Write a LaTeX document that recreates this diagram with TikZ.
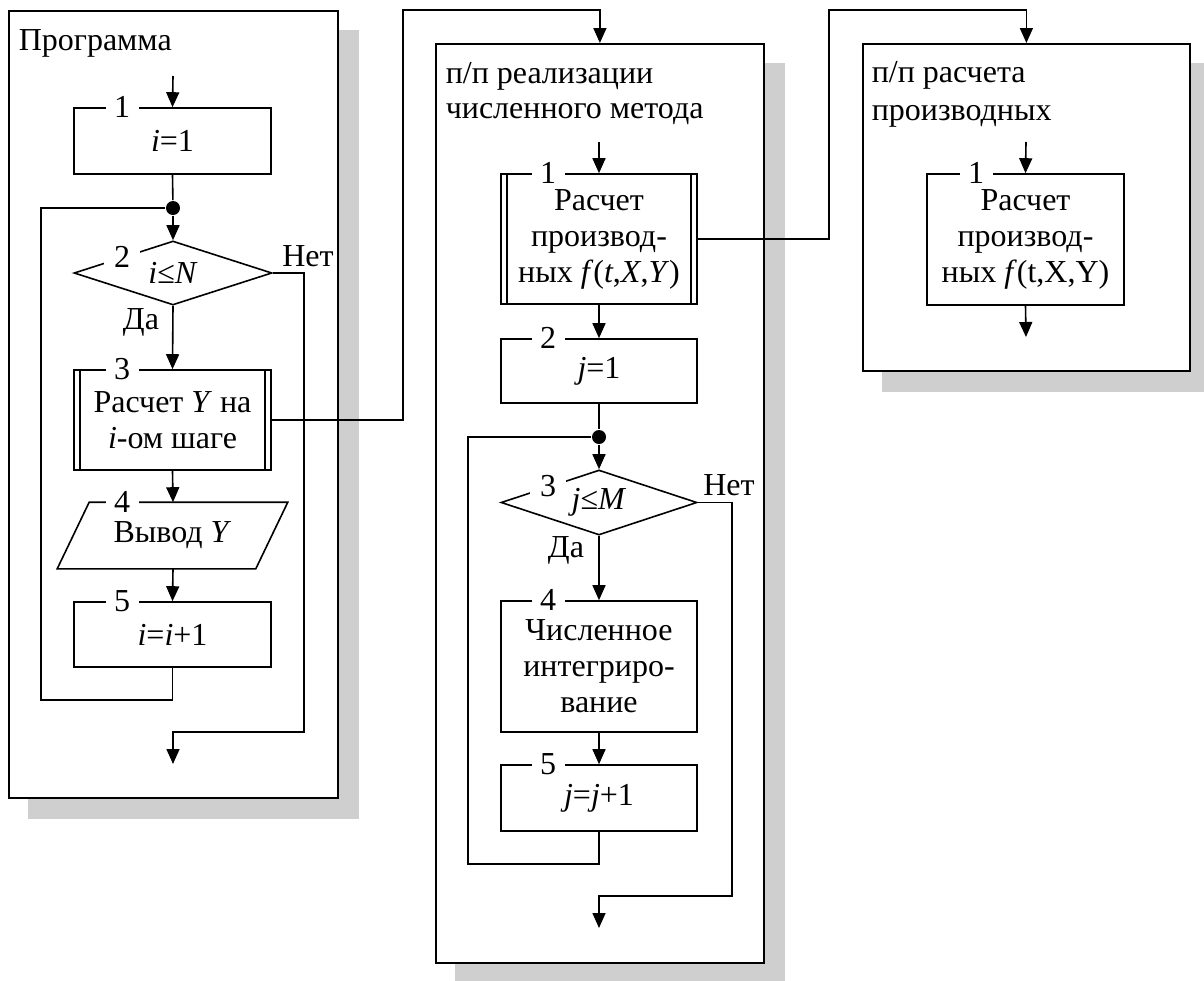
\documentclass[tikz,border=0pt]{standalone}
\usepackage{fontspec}
\setmainfont{Liberation Serif}
\usetikzlibrary{arrows.meta,shapes.geometric,calc,backgrounds}
\definecolor{shadowgray}{RGB}{207,207,207}
\begin{document}
\begin{tikzpicture}[x=1pt,y=-1pt,
  font=\fontsize{32}{36}\selectfont,
  line width=1.6pt,
  >={Triangle[length=15pt,width=13pt]},
  panel/.style={draw,line width=1.8pt,fill=white,anchor=north west,inner sep=0pt},
  blk/.style={draw,fill=white,minimum width=197pt,minimum height=#1,inner sep=1pt,align=center},
  cond/.style={draw,fill=white,diamond,aspect=3,inner sep=0pt,minimum width=198pt,minimum height=64pt},
  ghost/.style={minimum width=197pt,minimum height=#1,inner sep=2pt,align=center},
  num/.style={fill=white,inner sep=0pt,minimum width=33pt,minimum height=24pt},
  dot/.style={circle,fill=black,inner sep=0pt,minimum size=14pt},
  ttl/.style={anchor=base west,inner sep=0pt},
  lbl/.style={inner sep=0pt}]
\useasboundingbox (0,0) rectangle (1204,980);

% ---------- panels ----------
\node[panel,minimum width=329pt,minimum height=787pt] (P1) at (8,10) {};
\node[panel,minimum width=328pt,minimum height=919pt] (P2) at (435,43) {};
\node[panel,minimum width=327pt,minimum height=327pt] (P3) at (862,43) {};
\begin{scope}[on background layer]
  \foreach \p in {P1,P2,P3}
    \fill[shadowgray] ($(\p.north west)+(20,20)$) rectangle ($(\p.south east)+(20,20)$);
\end{scope}

\node[ttl] (t1) at ($(P1.north west)+(10,40)$) {Программа};
\node[ttl] (t2a) at ($(P2.north west)+(10,40)$) {п/п реализации};
\node[ttl] (t2b) at ($(P2.north west)+(10,75)$) {численного метода};
\node[ttl] (t3a) at ($(P3.north west)+(9,39)$) {п/п расчета};
\node[ttl] (t3b) at ($(P3.north west)+(9,77)$) {производных};

% ---------- panel 1 ----------
\coordinate (in1) at (173,76);
\node[blk=66pt] (b1) at (172.5,141) {\textit{i}=1};
\node[dot] (c1) at (173,208) {};
\node[cond] (d2) at (173,273) {\textit{i}≤\textit{N}};
\node[blk=100pt] (b3) at (172.5,420) {Расчет \textit{Y} на\\\textit{i}-ом шаге};
\draw ([xshift=7pt]b3.north west) -- ([xshift=7pt]b3.south west);
\draw ([xshift=-7pt]b3.north east) -- ([xshift=-7pt]b3.south east);
\node[ghost=65pt] (p4) at (172.5,535.5) {};
\draw[fill=white] ([xshift=16pt]p4.north west) -- ([xshift=16pt]p4.north east)
  -- ([xshift=-16pt]p4.south east) -- ([xshift=-16pt]p4.south west) -- cycle;
\node at (p4) {Вывод \textit{Y}};
\node[blk=65pt] (b5) at (172.5,634.5) {\textit{i}=\textit{i}+1};
\coordinate (out1) at (173,764);

\node[num] (n1) at ($(b1.north west)+(49,0)$) {1};
\node[num,minimum width=36pt] (n2) at ($(d2.west)+(49,-16)$) {2};
\node[num] (n3) at ($(b3.north west)+(49,0)$) {3};
\node[num] (n4) at ($(p4.north west)+(49,0)$) {4};
\node[num] (n5) at ($(b5.north west)+(49,0)$) {5};

\draw[->] (in1) -- (b1.north);
\draw (b1.south) -- (c1);
\draw[->] (c1) -- (d2.north);
\draw[->] (d2.south) -- (b3.north);
\draw[->] (b3.south) -- ($(p4.north)+(0.5,0)$);
\draw[->] ($(p4.south)+(0.5,0)$) -- (b5.north);
\draw (b5.south) -- ++(0,32) -| ([xshift=-132pt]c1.center) -- (c1);
\draw[->] (d2.east) -- ++(31,0) |- ([yshift=32pt]out1) -- (out1);
\node[lbl] (yes1) at (141,322) {Да};
\node[lbl] (no1) at (308,256) {Нет};

% ---------- panel 2 ----------
\coordinate (in2) at (599,142);
\node[blk=130pt,minimum width=196pt] (q1) at (599,239) {Расчет\\производ-\\ных \textit{f}(\textit{t},\textit{X},\textit{Y})};
\draw ([xshift=7pt]q1.north west) -- ([xshift=7pt]q1.south west);
\draw ([xshift=-7pt]q1.north east) -- ([xshift=-7pt]q1.south east);
\node[blk=64pt,minimum width=196pt] (q2) at (599,371) {\textit{j}=1};
\node[dot] (c2) at (599,437) {};
\node[cond,minimum width=196pt,minimum height=65pt] (q3) at (599,502.5) {\textit{j}≤\textit{M}};
\node[blk=131pt,minimum width=196pt] (q4) at (599,666.5) {Численное\\интегриро-\\вание};
\node[blk=66pt,minimum width=196pt] (q5) at (599,798) {\textit{j}=\textit{j}+1};
\coordinate (out2) at (599,928);

\node[num] (m1) at ($(q1.north west)+(48,0)$) {1};
\node[num] (m2) at ($(q2.north west)+(48,0)$) {2};
\node[num,minimum width=36pt] (m3) at ($(q3.west)+(48,-16)$) {3};
\node[num] (m4) at ($(q4.north west)+(48,0)$) {4};
\node[num] (m5) at ($(q5.north west)+(48,0)$) {5};

\draw[->] (in2) -- (q1.north);
\draw[->] (q1.south) -- (q2.north);
\draw (q2.south) -- (c2);
\draw[->] (c2) -- (q3.north);
\draw[->] (q3.south) -- (q4.north);
\draw[->] (q4.south) -- (q5.north);
\draw (q5.south) -- ++(0,32) -| ([xshift=-131pt]c2.center) -- (c2);
\draw[->] (q3.east) -- ++(34,0) |- ([yshift=32pt]out2) -- (out2);
\node[lbl] (yes2) at (566,550) {Да};
\node[lbl] (no2) at (729,485) {Нет};

% ---------- panel 3 ----------
\coordinate (in3) at (1026,142);
\node[blk=131pt] (r1) at (1025.5,239.5) {Расчет\\производ-\\ных \textit{f}(t,X,Y)};
\node[num] (k1) at ($(r1.north west)+(50,0)$) {1};
\coordinate (out3) at (1026,337);
\draw[->] (in3) -- (r1.north);
\draw[->] (r1.south) -- (out3);

% ---------- calls between panels ----------
\draw[->] (b3.east) -- ++(131,0) |- ([yshift=33pt]P2.north) -- (P2.north);
\draw[->] (q1.east) -- ++(131,0) |- ([yshift=33pt]P3.north) -- (P3.north);
\end{tikzpicture}
\end{document}
